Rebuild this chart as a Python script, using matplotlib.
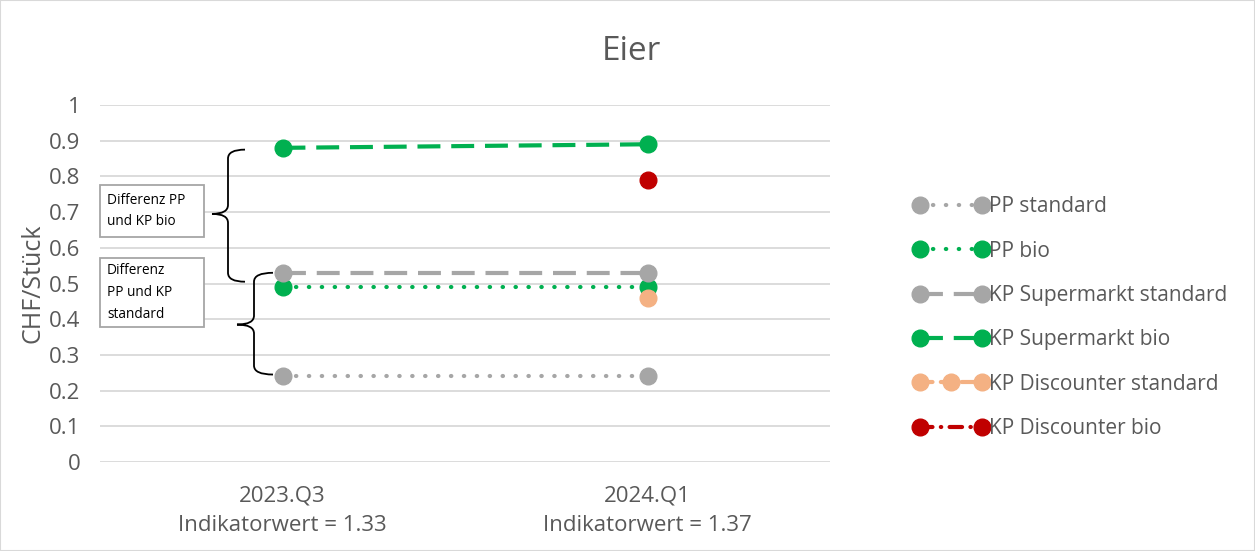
import matplotlib
matplotlib.use("Agg")
import matplotlib.pyplot as plt
from matplotlib.lines import Line2D
from matplotlib.legend_handler import HandlerLine2D
from matplotlib.path import Path
from matplotlib.patches import PathPatch, Rectangle
import matplotlib.transforms as mtrans
import numpy as np

plt.rcParams['font.family'] = ['Open Sans', 'DejaVu Sans']

title = "Eier"
categories = ["2023.Q3\nIndikatorwert = 1.33", "2024.Q1\nIndikatorwert = 1.37"]
pp_standard = [0.24, 0.24]
pp_bio = [0.49, 0.49]
kp_super_standard = [0.53, 0.53]
kp_super_bio = [0.88, 0.89]
kp_disc_standard = [np.nan, 0.46]
kp_disc_bio = [np.nan, 0.79]
series_names = ["PP standard", "PP bio", "KP Supermarkt standard", "KP Supermarkt bio",
                "KP Discounter standard", "KP Discounter bio"]
yticks = [0, 0.1, 0.2, 0.3, 0.4, 0.5, 0.6, 0.7, 0.8, 0.9, 1]
ytick_labels = ["0", "0.1", "0.2", "0.3", "0.4", "0.5", "0.6", "0.7", "0.8", "0.9", "1"]
box_texts = ["Differenz PP\nund KP bio", "Differenz\nPP und KP\nstandard"]

GREY = "#A6A6A6"
GREEN = "#00B050"
PEACH = "#F4B183"
RED = "#C00000"
TXT = "#595959"

fig = plt.figure(figsize=(12.55, 5.51), dpi=100)
fig.patches.append(Rectangle((0, 0), 1, 1, transform=fig.transFigure, fill=False,
                             edgecolor="#D9D9D9", linewidth=1.5))
ax = fig.add_axes([100/1255, 1-462/551, 730/1255, 357/551])
x = np.arange(len(categories))

lw = 3.0
ms = 12
series = [
    (pp_standard, GREY, dict(dashes=(0.1, 3.0), dash_capstyle='round')),
    (pp_bio, GREEN, dict(dashes=(0.1, 3.0), dash_capstyle='round')),
    (kp_super_standard, GREY, dict(dashes=(5.5, 2.6), dash_capstyle='butt')),
    (kp_super_bio, GREEN, dict(dashes=(5.5, 2.6), dash_capstyle='butt')),
    (kp_disc_standard, PEACH, dict(dashes=(3, 2), dash_capstyle='round')),
    (kp_disc_bio, RED, dict(dashes=(3, 2, 0.1, 2), dash_capstyle='round')),
]
handles = []
for (vals, col, st), name in zip(series, series_names):
    ln, = ax.plot(x, vals, color=col, lw=lw, marker='o', markersize=ms,
                  markeredgecolor=col, markerfacecolor=col, label=name, zorder=3, **st)
    handles.append(ln)

ax.set_xlim(-0.5, 1.5)
ax.set_ylim(0, 1)
ax.set_yticks(yticks)
ax.set_yticklabels(ytick_labels)
ax.set_xticks(x)
ax.set_xticklabels(categories, linespacing=1.55)
ax.tick_params(axis='both', length=0, labelsize=16, colors=TXT)
ax.tick_params(axis='y', pad=14)
ax.tick_params(axis='x', pad=17)
ax.grid(axis='y', color="#D9D9D9", lw=1.3)
ax.set_axisbelow(True)
for s in ax.spines.values():
    s.set_visible(False)
ax.set_ylabel("CHF/Stück", fontsize=18, color=TXT, labelpad=3)
fig.text(0.503, 1-52/551, title, fontsize=24, color=TXT, ha='center', va='center')

hm = {h: HandlerLine2D(numpoints=2) for h in handles}
hm[handles[4]] = HandlerLine2D(numpoints=3)
leg = fig.legend(handles=handles, loc='upper left', bbox_to_anchor=(903/1255, 1-186/551),
                 frameon=False, fontsize=15, labelcolor=TXT, handlelength=3.6,
                 handletextpad=0.05, labelspacing=1.12, handler_map=hm, borderpad=0)

# braces and text boxes
trans = mtrans.blended_transform_factory(fig.transFigure, ax.transData)

def brace(x_tip, x_spine, x_end, y_top, y_bot, y_mid):
    W = 1255.0
    xt, xs, xe = x_tip/W, x_spine/W, x_end/W
    r = 0.025
    verts = [(xe, y_top), (xs, y_top), (xs, y_top - r),
             (xs, y_mid + r), (xs, y_mid), (xt, y_mid),
             (xs, y_mid), (xs, y_mid - r),
             (xs, y_bot + r), (xs, y_bot), (xe, y_bot)]
    codes = [Path.MOVETO, Path.CURVE3, Path.CURVE3,
             Path.LINETO, Path.CURVE3, Path.CURVE3,
             Path.CURVE3, Path.CURVE3,
             Path.LINETO, Path.CURVE3, Path.CURVE3]
    p = PathPatch(Path(verts, codes), transform=trans, fill=False, edgecolor='black',
                  lw=1.3, clip_on=False)
    fig.patches.append(p)

brace(212, 228, 245, 0.875, 0.505, 0.695)
brace(237, 254, 273, 0.53, 0.245, 0.385)

for (x0, x1, y0, y1), t in zip([(100, 204, 185, 237), (100, 204, 258, 327)], box_texts):
    fig.patches.append(Rectangle((x0/1255, 1-y1/551), (x1-x0)/1255, (y1-y0)/551,
                                 transform=fig.transFigure, fill=True, facecolor='white',
                                 edgecolor="#A6A6A6", lw=1.3))
    fig.text((x0+7)/1255, 1-(y0+y1)/2/551, t, fontsize=9.8, color='black', ha='left',
             va='center', linespacing=1.6)

fig.savefig("out.png", dpi=100)
